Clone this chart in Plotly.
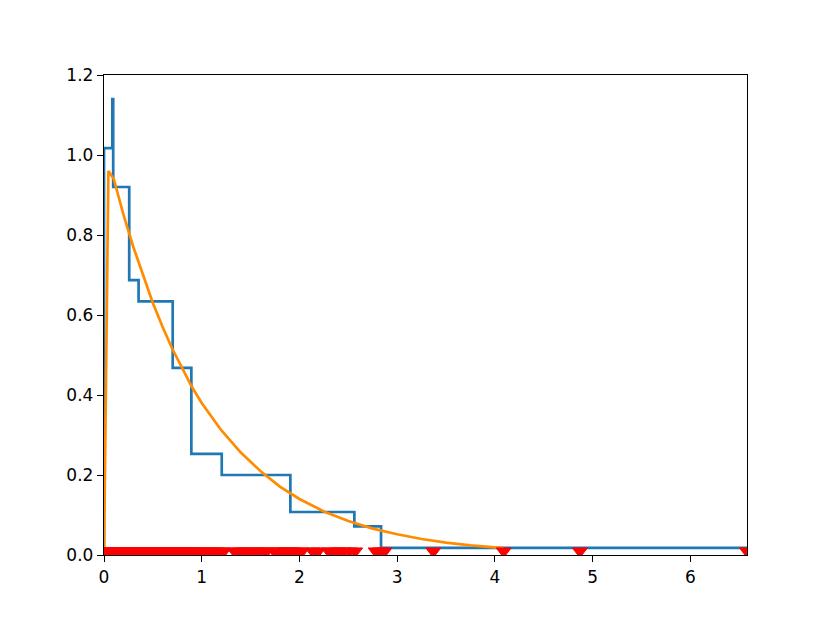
import plotly.graph_objects as go

# ---- data ----
# step histogram (density) : bin edges and heights
bin_edges = [0.0, 0.085, 0.094, 0.258, 0.354, 0.703, 0.894, 1.205, 1.907, 2.562, 2.835, 6.58]
bin_density = [1.017, 1.14, 0.92, 0.687, 0.634, 0.468, 0.253, 0.200, 0.1075, 0.0717, 0.018]

# fitted curve (orange)
curve_x = [0.0, 0.045, 0.1, 0.2, 0.3, 0.4, 0.5, 0.6, 0.7, 0.8, 0.9, 1.0, 1.2, 1.4, 1.6,
           1.8, 2.0, 2.25, 2.5, 2.75, 3.0, 3.25, 3.5, 3.75, 4.09]
curve_y = [0.0, 0.96, 0.94, 0.85, 0.77, 0.70, 0.63, 0.57, 0.515, 0.467, 0.42, 0.38, 0.312,
           0.256, 0.21, 0.171, 0.140, 0.109, 0.085, 0.066, 0.052, 0.040, 0.031, 0.024, 0.017]

# sample points (red markers on the x axis)
samples = [0.002, 0.012, 0.021, 0.033, 0.045, 0.058, 0.067, 0.079, 0.089,
           0.099, 0.108, 0.118, 0.127, 0.139, 0.148, 0.159, 0.170, 0.181, 0.192, 0.203,
           0.214, 0.226, 0.237, 0.249, 0.266, 0.279, 0.292, 0.305, 0.318, 0.331, 0.344,
           0.362, 0.377, 0.392, 0.408, 0.423, 0.437, 0.452, 0.468, 0.483, 0.498, 0.514,
           0.529, 0.545, 0.561, 0.577, 0.592, 0.608, 0.624, 0.639, 0.655, 0.671, 0.690,
           0.716, 0.737, 0.758, 0.779, 0.800, 0.821, 0.842, 0.863, 0.884,
           0.905, 0.945, 0.985, 1.025, 1.065, 1.105, 1.145, 1.185,
           1.225, 1.335, 1.385, 1.430, 1.480, 1.530, 1.580, 1.630, 1.665, 1.742, 1.790,
           1.830, 1.870, 1.890, 1.925, 1.975, 2.025, 2.135, 2.190, 2.300, 2.350, 2.400,
           2.450, 2.510, 2.570, 2.780, 2.830, 2.870, 3.37, 4.09, 4.87, 6.58]

x_ticks = [0, 1, 2, 3, 4, 5, 6]
y_ticks = [0.0, 0.2, 0.4, 0.6, 0.8, 1.0, 1.2]

# step outline like matplotlib histtype='step'
step_x = [bin_edges[0]] + bin_edges
step_y = [0] + bin_density + [0]

fig = go.Figure()

fig.add_trace(go.Scatter(
    x=step_x, y=step_y, mode='lines', line_shape='hv',
    line=dict(color='#1f77b4', width=2.7), hoverinfo='skip'
))

fig.add_trace(go.Scatter(
    x=curve_x, y=curve_y, mode='lines',
    line=dict(color='#ff8c00', width=2.7), hoverinfo='skip'
))

fig.add_trace(go.Scatter(
    x=samples, y=[0] * len(samples), mode='markers', yaxis='y2',
    marker=dict(symbol='triangle-down', size=13, color='red',
                line=dict(color='red', width=1)),
    cliponaxis=True, hoverinfo='skip'
))

axis_common = dict(
    showline=True, linecolor='black', linewidth=1.4, mirror=True,
    ticks='outside', ticklen=6, tickwidth=1.4, tickcolor='black',
    showgrid=False, zeroline=False,
    tickfont=dict(family='DejaVu Sans', size=17, color='black'),
)

# page body adds an 8px offset, margins compensate for it
fig.update_layout(
    width=830, height=623, autosize=False,
    margin=dict(l=96, r=91, t=67, b=76),
    plot_bgcolor='white', paper_bgcolor='white',
    showlegend=False,
    xaxis=dict(range=[0, 6.58], tickvals=x_ticks, ticktext=[str(v) for v in x_ticks], **axis_common),
    yaxis=dict(range=[0, 1.2], tickvals=y_ticks, ticktext=[f'{v:.1f}' for v in y_ticks], **axis_common),
    yaxis2=dict(overlaying='y', range=[-0.0095, 1.2 - 0.0095], visible=False),
)

fig.write_html("out.html")
